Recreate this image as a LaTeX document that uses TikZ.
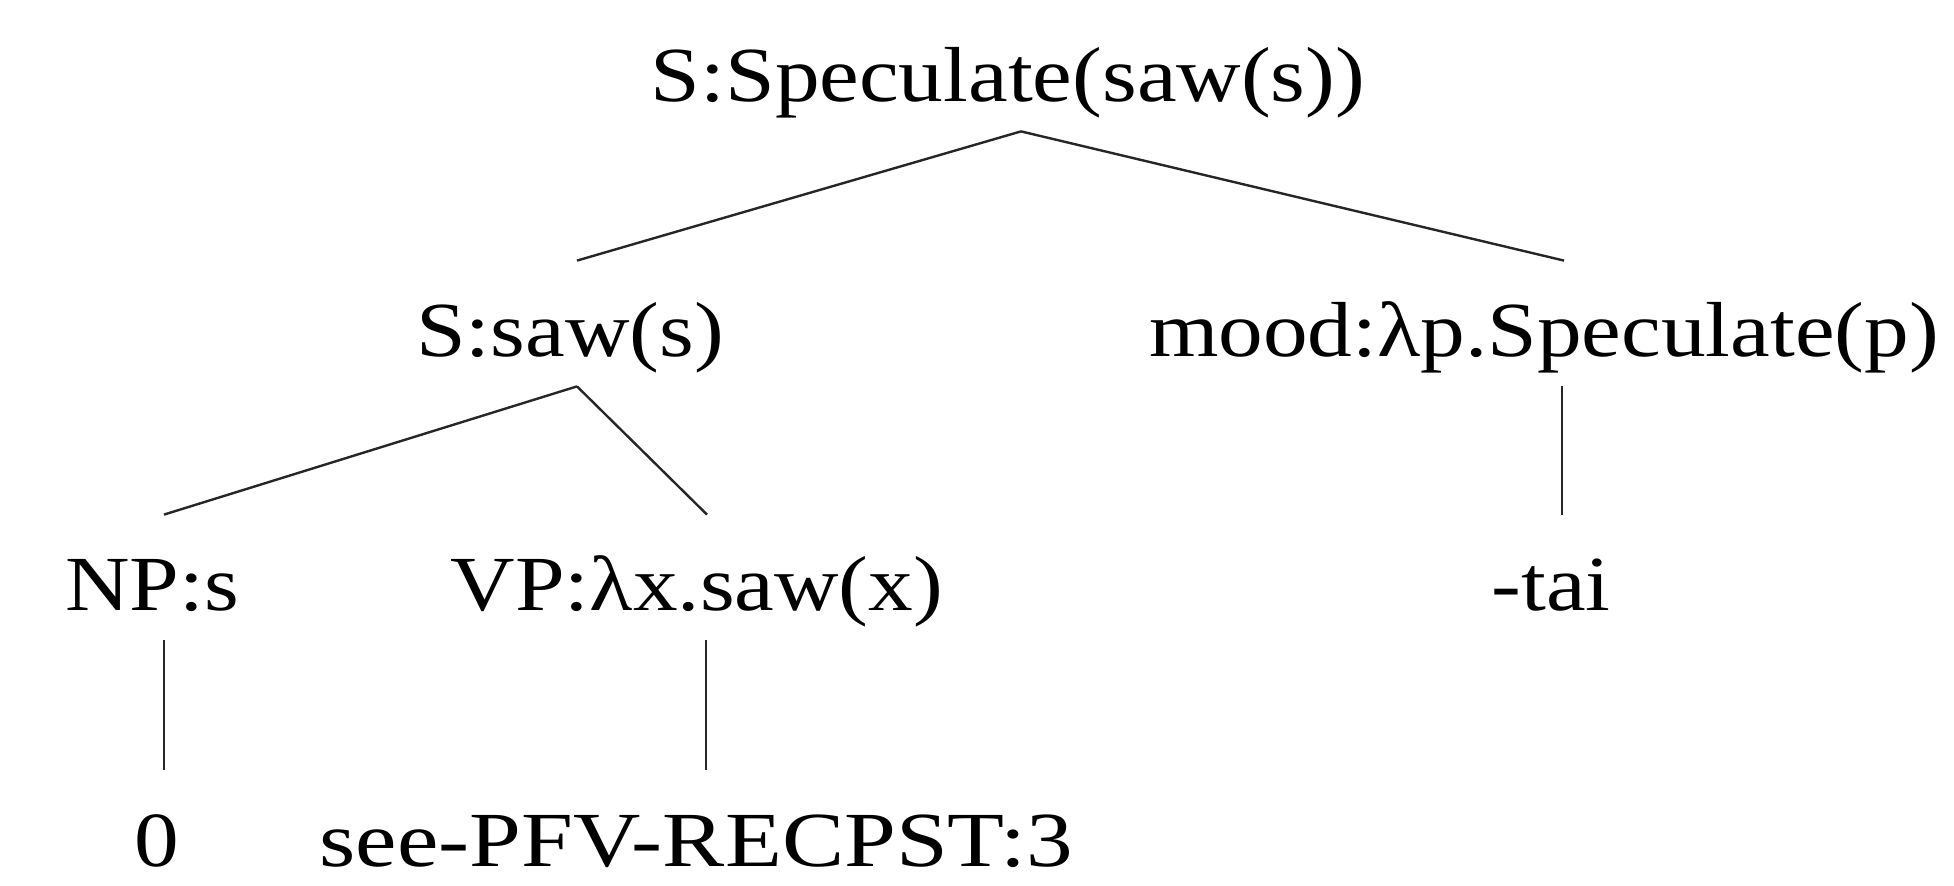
\documentclass[tikz,border=0pt]{standalone}
\usepackage{graphicx}
\usepackage{fontspec}
\setmainfont{Liberation Serif}
\usetikzlibrary{calc}
\newcommand{\stx}[2][1.145]{\scalebox{#1}[1]{#2}}
\begin{document}
\begin{tikzpicture}[x=0.5pt,y=-0.5pt,
  lbl/.style={anchor=base, inner sep=0pt, text height=48pt, text depth=14.5pt,
    font=\fontsize{39}{47}\selectfont},
  edge/.style={line width=1.2pt, black!85}]
\useasboundingbox (0,0) rectangle (1954,886);
\node[lbl] (root) at (1008,102) {\stx{S:Speculate(saw(s))}};
\node[lbl] (ssaw) at (570,357) {\stx{S:saw(s)}};
\node[lbl] (mood) at (1544,357) {\stx{mood:λp.Speculate(p)}};
\node[lbl] (np) at (152,611) {\stx{NP:s}};
\node[lbl] (vp) at (697,611) {\stx{VP:λx.saw(x)}};
\node[lbl] (tai) at (1551,611) {\stx{-tai}};
\node[lbl] (zero) at (157,866) {\stx{0}};
\node[lbl] (see) at (696,866) {\stx[1.195]{see-PFV-RECPST:3}};
\draw[edge] ($(root.south)+(13,0)$) -- ($(ssaw.north)+(7,0)$);
\draw[edge] ($(root.south)+(13,0)$) -- ($(mood.north)+(20,0)$);
\draw[edge] ($(ssaw.south)+(7,0)$) -- ($(np.north)+(12,0)$);
\draw[edge] ($(ssaw.south)+(7,0)$) -- ($(vp.north)+(10,0)$);
\draw[edge] ($(mood.south)+(18,0)$) -- ($(tai.north)+(11,0)$);
\draw[edge] ($(np.south)+(12,0)$) -- ($(zero.north)+(7,0)$);
\draw[edge] ($(vp.south)+(9,0)$) -- ($(see.north)+(10,0)$);
\end{tikzpicture}
\end{document}
